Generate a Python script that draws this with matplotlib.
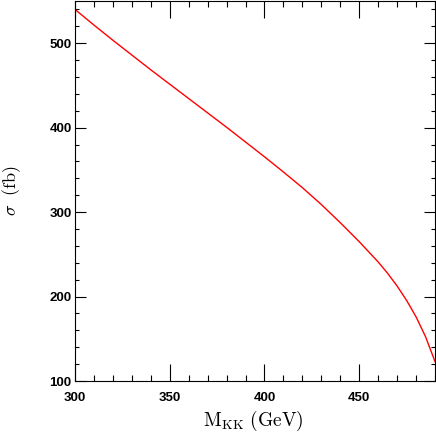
import numpy as np
import matplotlib
matplotlib.use('Agg')
import matplotlib.pyplot as plt
from matplotlib.ticker import MultipleLocator

plt.rcParams['mathtext.fontset'] = 'cm'

# values
m_kk = [300, 310, 320, 330, 340, 350, 360, 370, 380, 390, 400, 410, 420,
        430, 440, 450, 460, 465, 470, 475, 480, 485, 490]
sigma = [540, 521.5, 503.5, 486, 468.5, 451.5, 434.5, 417.5, 400.5, 383,
         365.5, 347.5, 329, 309, 287.5, 265, 241, 227.5, 212.5, 195.5, 176,
         152.5, 123]

tick_font = ['Liberation Sans Narrow', 'Liberation Sans']

fig = plt.figure(figsize=(4.36, 4.36), dpi=100)
ax = fig.add_axes([75/436, 55/436, 360/436, 380/436])

ax.plot(m_kk, sigma, color='red', lw=1.0)

ax.set_xlim(300, 490)
ax.set_ylim(100, 550)

ax.xaxis.set_major_locator(MultipleLocator(50))
ax.xaxis.set_minor_locator(MultipleLocator(10))
ax.yaxis.set_major_locator(MultipleLocator(100))
ax.yaxis.set_minor_locator(MultipleLocator(20))

ax.tick_params(axis='x', which='major', direction='in', length=12, width=0.8,
               top=True, pad=8)
ax.tick_params(axis='x', which='minor', direction='in', length=4.3, width=0.8,
               top=True)
ax.tick_params(axis='y', which='major', direction='in', length=8, width=0.8,
               right=True, pad=2.5)
ax.tick_params(axis='y', which='minor', direction='in', length=3, width=0.8,
               right=True)

for lab in ax.get_xticklabels() + ax.get_yticklabels():
    lab.set_family(tick_font)
    lab.set_fontsize(9.5)
    lab.set_fontweight('bold')

for sp in ax.spines.values():
    sp.set_linewidth(0.8)

fig.text(253/436, 1 - 421/436, r'$\mathrm{M}_{\mathrm{KK}}\ \mathrm{(GeV)}$',
         ha='center', va='center', fontsize=14)
fig.text(12/436, 1 - 191/436, r'$\sigma\ \ \mathrm{(fb)}$',
         rotation=90, ha='center', va='center', fontsize=13)

fig.savefig('out.png', dpi=100)
